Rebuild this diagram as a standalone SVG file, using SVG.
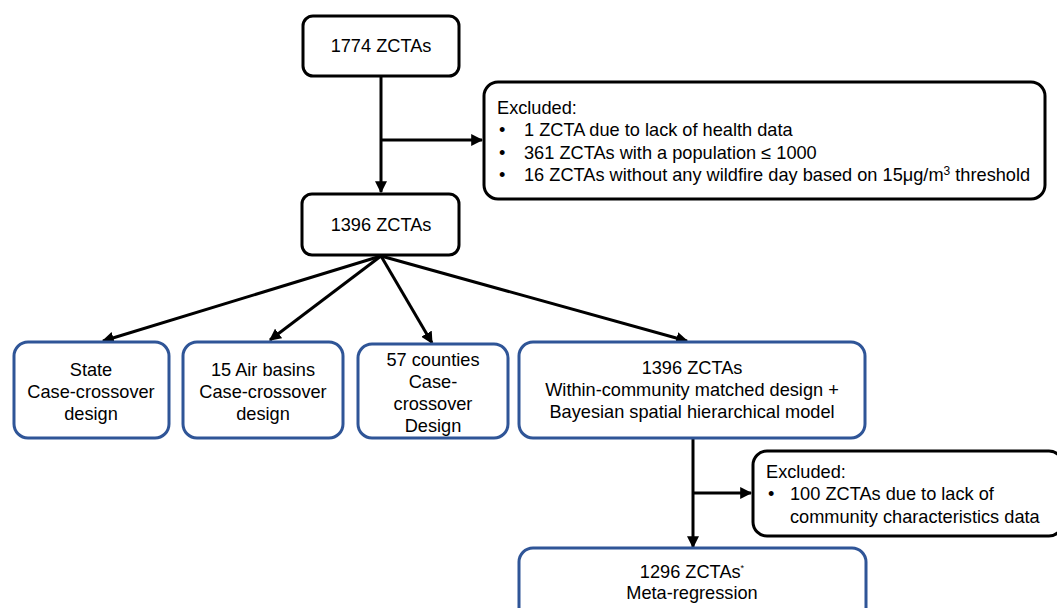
<svg xmlns="http://www.w3.org/2000/svg" width="1057" height="608" viewBox="0 0 1057 608">
<style>
text{font-family:"Liberation Sans",Arial,sans-serif;font-size:18.2px;fill:#000}
.c{text-anchor:middle}
.bk{fill:#fff;stroke:#000;stroke-width:3}
.bl{fill:#fff;stroke:#2F5597;stroke-width:3}
.ln{stroke:#000;stroke-width:3;fill:none}
</style>
<defs>
<marker id="ah" viewBox="0 0 10 10" refX="9" refY="5" markerWidth="4" markerHeight="4" orient="auto" markerUnits="strokeWidth">
<path d="M0,0 L10,5 L0,10 z" fill="#000"/>
</marker>
</defs>
<g id="connectors">
<line class="ln" x1="381" y1="77" x2="381" y2="192" marker-end="url(#ah)"/>
<line class="ln" x1="381" y1="140" x2="482" y2="140" marker-end="url(#ah)"/>
<line class="ln" x1="381" y1="256" x2="103" y2="341" marker-end="url(#ah)"/>
<line class="ln" x1="381" y1="256" x2="270" y2="340" marker-end="url(#ah)"/>
<line class="ln" x1="381" y1="256" x2="432" y2="343" marker-end="url(#ah)"/>
<line class="ln" x1="381" y1="256" x2="687" y2="341" marker-end="url(#ah)"/>
<line class="ln" x1="693" y1="439" x2="693" y2="547" marker-end="url(#ah)"/>
<line class="ln" x1="693" y1="493" x2="751" y2="493" marker-end="url(#ah)"/>
</g>
<g id="n1774">
<rect class="bk" x="303" y="16" width="156" height="60" rx="10"/>
<text class="c" x="381" y="52">1774 ZCTAs</text>
</g>
<g id="excluded1">
<rect class="bk" x="484" y="82" width="561" height="117" rx="14"/>
<text x="497" y="114">Excluded:</text>
<text x="499" y="136">•</text><text x="524" y="136">1 ZCTA due to lack of health data</text>
<text x="499" y="159">•</text><text x="524" y="159">361 ZCTAs with a population ≤ 1000</text>
<text x="499" y="181">•</text><text x="524" y="181">16 ZCTAs without any wildfire day based on 15μg/m<tspan dy="-6" font-size="12">3</tspan><tspan dy="6"> threshold</tspan></text>
</g>
<g id="n1396">
<rect class="bk" x="302" y="194" width="157" height="61" rx="10"/>
<text class="c" x="381" y="231">1396 ZCTAs</text>
</g>
<g id="state">
<rect class="bl" x="14" y="342" width="155" height="96" rx="14"/>
<text class="c" x="91" y="376">State</text>
<text class="c" x="91" y="398">Case-crossover</text>
<text class="c" x="91" y="420">design</text>
</g>
<g id="airbasins">
<rect class="bl" x="183" y="342" width="160" height="96" rx="14"/>
<text class="c" x="263" y="376">15 Air basins</text>
<text class="c" x="263" y="398">Case-crossover</text>
<text class="c" x="263" y="420">design</text>
</g>
<g id="counties">
<rect class="bl" x="358" y="344" width="150" height="94" rx="14"/>
<text class="c" x="433" y="366">57 counties</text>
<text class="c" x="433" y="388">Case-</text>
<text class="c" x="433" y="410">crossover</text>
<text class="c" x="433" y="432">Design</text>
</g>
<g id="bayes">
<rect class="bl" x="519" y="342" width="346" height="96" rx="14"/>
<text class="c" x="692" y="374">1396 ZCTAs</text>
<text class="c" x="692" y="396">Within-community matched design +</text>
<text class="c" x="692" y="418">Bayesian spatial hierarchical model</text>
</g>
<g id="excluded2">
<rect class="bk" x="753" y="451" width="310" height="85" rx="14"/>
<text x="766" y="478">Excluded:</text>
<text x="768" y="500">•</text><text x="790" y="500">100 ZCTAs due to lack of</text>
<text x="790" y="523">community characteristics data</text>
</g>
<g id="meta">
<rect class="bl" x="519" y="548" width="347" height="80" rx="14"/>
<text class="c" x="692" y="578">1296 ZCTAs<tspan dy="-7" font-size="9">*</tspan></text>
<text class="c" x="692" y="599">Meta-regression</text>
</g>
</svg>
